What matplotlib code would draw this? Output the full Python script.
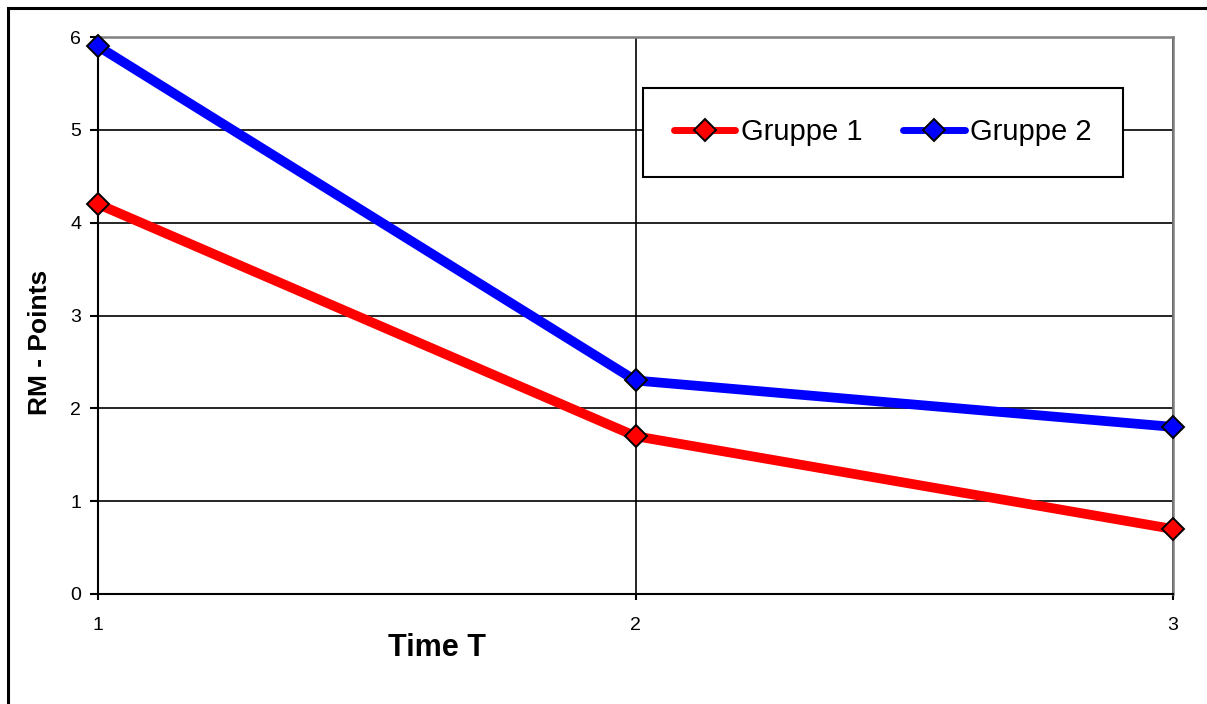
import matplotlib
matplotlib.use('Agg')
import matplotlib.pyplot as plt
from matplotlib.patches import Rectangle

time_points = [1, 2, 3]
gruppe1 = [4.2, 1.7, 0.7]
gruppe2 = [5.9, 2.3, 1.8]
y_ticks = [0, 1, 2, 3, 4, 5, 6]

plt.rcParams['font.family'] = ['Liberation Sans', 'DejaVu Sans']

W, H = 1207, 704
fig = plt.figure(figsize=(W / 100, H / 100), dpi=100)
ax = fig.add_axes([98 / W, 1 - 594 / H, (1173 - 98) / W, (594 - 37) / H])

# outer chart border (runs off the right and bottom edge)
fig.patches.append(Rectangle((8 / W, -0.2), 1.2, 1.2 - 8 / H, transform=fig.transFigure,
                             fill=False, edgecolor='black', lw=2.2, clip_on=False))

ax.plot(time_points, gruppe1, color='#ff0000', lw=7, marker='D', markersize=11.5,
        markerfacecolor='#ff0000', markeredgecolor='black', markeredgewidth=1.4,
        label='Gruppe 1', zorder=4, clip_on=False)
ax.plot(time_points, gruppe2, color='#0000ff', lw=7, marker='D', markersize=11.5,
        markerfacecolor='#0000ff', markeredgecolor='black', markeredgewidth=1.4,
        label='Gruppe 2', zorder=4, clip_on=False)

ax.set_xlim(1, 3)
ax.set_ylim(0, 6)
ax.set_xticks(time_points)
ax.set_yticks(y_ticks)
ax.grid(True, color='black', lw=1.2)
ax.set_axisbelow(True)

for side in ['top', 'right']:
    ax.spines[side].set_color('#808080')
    ax.spines[side].set_linewidth(1.8)
for side in ['left', 'bottom']:
    ax.spines[side].set_color('black')
    ax.spines[side].set_linewidth(1.5)

ax.tick_params(axis='y', direction='out', length=6, width=1.5, pad=6, labelsize=14)
ax.tick_params(axis='x', direction='out', length=4.5, width=1.5, pad=12, labelsize=14)

ax.set_xlabel('Time T', fontsize=22, fontweight='bold')
ax.set_ylabel('RM - Points', fontsize=19, fontweight='bold')
ax.xaxis.set_label_coords((437 - 98) / 1075, (594 - 648) / 557)
ax.yaxis.set_label_coords((40 - 98) / 1075, (594 - 342) / 557)
ax.xaxis.label.set_va('center')
ax.yaxis.label.set_va('center')

leg = ax.legend(loc='center', bbox_to_anchor=(883 / W, 1 - 132.5 / H),
                bbox_transform=fig.transFigure, ncol=2, fontsize=21, frameon=True,
                fancybox=False, framealpha=1, edgecolor='black', handlelength=2.1,
                handletextpad=0.2, columnspacing=1.4, borderpad=1.05)
leg.get_frame().set_linewidth(1.5)
for line in leg.get_lines():
    line.set_linewidth(5)
    line.set_solid_capstyle('round')
leg.set_zorder(5)

fig.savefig('out.png', dpi=100)
